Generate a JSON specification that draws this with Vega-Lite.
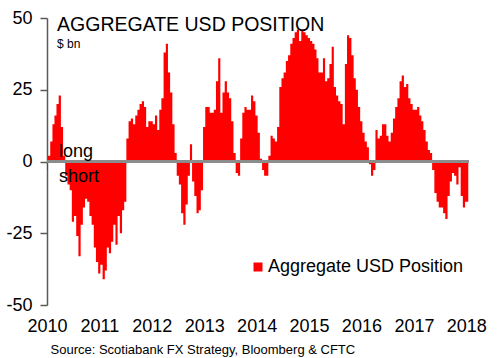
{
"$schema": "https://vega.github.io/schema/vega-lite/v6.json",
"width": 422, "height": 287,
"autosize": {"type": "none"},
"padding": {"left": 47, "top": 18, "right": 31, "bottom": 53},
"background": "white",
"config": {"view": {"stroke": null}, "font": "Liberation Sans"},
"data": {"values": [
{"date":"2010-01-01","usd":-3},{"date":"2010-01-15","usd":2},{"date":"2010-02-01","usd":7},{"date":"2010-02-15","usd":13},
{"date":"2010-03-01","usd":16},{"date":"2010-03-15","usd":20},{"date":"2010-04-01","usd":23},{"date":"2010-04-15","usd":12},
{"date":"2010-05-01","usd":2},{"date":"2010-05-15","usd":-5},{"date":"2010-06-01","usd":-8},{"date":"2010-06-15","usd":-10},
{"date":"2010-07-01","usd":-21},{"date":"2010-07-15","usd":-19},{"date":"2010-08-01","usd":-26},{"date":"2010-08-15","usd":-33},
{"date":"2010-09-01","usd":-22},{"date":"2010-09-15","usd":-16},{"date":"2010-10-01","usd":-13},{"date":"2010-10-15","usd":-14},
{"date":"2010-11-01","usd":-19},{"date":"2010-11-15","usd":-22},{"date":"2010-12-01","usd":-30},{"date":"2010-12-15","usd":-35},
{"date":"2011-01-01","usd":-39},{"date":"2011-01-15","usd":-36},{"date":"2011-02-01","usd":-41},{"date":"2011-02-15","usd":-38},
{"date":"2011-03-01","usd":-30},{"date":"2011-03-15","usd":-32},{"date":"2011-04-01","usd":-28},{"date":"2011-04-15","usd":-22},
{"date":"2011-05-01","usd":-29},{"date":"2011-05-15","usd":-19},{"date":"2011-06-01","usd":-25},{"date":"2011-06-15","usd":-17},
{"date":"2011-07-01","usd":-14},{"date":"2011-07-15","usd":8},{"date":"2011-08-01","usd":14},{"date":"2011-08-15","usd":15},
{"date":"2011-09-01","usd":13},{"date":"2011-09-15","usd":16},{"date":"2011-10-01","usd":18},{"date":"2011-10-15","usd":20},
{"date":"2011-11-01","usd":21},{"date":"2011-11-15","usd":19},{"date":"2011-12-01","usd":12},{"date":"2011-12-15","usd":14},
{"date":"2012-01-01","usd":14},{"date":"2012-01-15","usd":13},{"date":"2012-02-01","usd":16},{"date":"2012-02-15","usd":11},
{"date":"2012-03-01","usd":18},{"date":"2012-03-15","usd":22},{"date":"2012-04-01","usd":38},{"date":"2012-04-15","usd":41},
{"date":"2012-05-01","usd":31},{"date":"2012-05-15","usd":24},{"date":"2012-06-01","usd":13},{"date":"2012-06-15","usd":3},
{"date":"2012-07-01","usd":-5},{"date":"2012-07-15","usd":-8},{"date":"2012-08-01","usd":-18},{"date":"2012-08-15","usd":-22},
{"date":"2012-09-01","usd":-15},{"date":"2012-09-15","usd":-5},{"date":"2012-10-01","usd":6},{"date":"2012-10-15","usd":-7},
{"date":"2012-11-01","usd":-12},{"date":"2012-11-15","usd":-18},{"date":"2012-12-01","usd":-17},{"date":"2012-12-15","usd":-10},
{"date":"2013-01-01","usd":12},{"date":"2013-01-15","usd":19},{"date":"2013-02-01","usd":19},{"date":"2013-02-15","usd":17},
{"date":"2013-03-01","usd":17},{"date":"2013-03-15","usd":18},{"date":"2013-04-01","usd":28},{"date":"2013-04-15","usd":36},
{"date":"2013-05-01","usd":17},{"date":"2013-05-15","usd":24},{"date":"2013-06-01","usd":28},{"date":"2013-06-15","usd":24},
{"date":"2013-07-01","usd":22},{"date":"2013-07-15","usd":14},{"date":"2013-08-01","usd":3},{"date":"2013-08-15","usd":-4},
{"date":"2013-09-01","usd":-5},{"date":"2013-09-15","usd":8},{"date":"2013-10-01","usd":17},{"date":"2013-10-15","usd":19},
{"date":"2013-11-01","usd":18},{"date":"2013-11-15","usd":18},{"date":"2013-12-01","usd":23},{"date":"2013-12-15","usd":21},
{"date":"2014-01-01","usd":16},{"date":"2014-01-15","usd":10},{"date":"2014-02-01","usd":1},{"date":"2014-02-15","usd":-3},
{"date":"2014-03-01","usd":-5},{"date":"2014-03-15","usd":-5},{"date":"2014-04-01","usd":2},{"date":"2014-04-15","usd":9},
{"date":"2014-05-01","usd":8},{"date":"2014-05-15","usd":7},{"date":"2014-06-01","usd":12},{"date":"2014-06-15","usd":26},
{"date":"2014-07-01","usd":29},{"date":"2014-07-15","usd":31},{"date":"2014-08-01","usd":35},{"date":"2014-08-15","usd":37},
{"date":"2014-09-01","usd":41},{"date":"2014-09-15","usd":43},{"date":"2014-10-01","usd":45},{"date":"2014-10-15","usd":46},
{"date":"2014-11-01","usd":42},{"date":"2014-11-15","usd":46},{"date":"2014-12-01","usd":45},{"date":"2014-12-15","usd":44},
{"date":"2015-01-01","usd":43},{"date":"2015-01-15","usd":42},{"date":"2015-02-01","usd":41},{"date":"2015-02-15","usd":39},
{"date":"2015-03-01","usd":36},{"date":"2015-03-15","usd":31},{"date":"2015-04-01","usd":31},{"date":"2015-04-15","usd":36},
{"date":"2015-05-01","usd":28},{"date":"2015-05-15","usd":29},{"date":"2015-06-01","usd":34},{"date":"2015-06-15","usd":40},
{"date":"2015-07-01","usd":26},{"date":"2015-07-15","usd":23},{"date":"2015-08-01","usd":21},{"date":"2015-08-15","usd":20},
{"date":"2015-09-01","usd":13},{"date":"2015-09-15","usd":34},{"date":"2015-10-01","usd":44},{"date":"2015-10-15","usd":43},
{"date":"2015-11-01","usd":37},{"date":"2015-11-15","usd":29},{"date":"2015-12-01","usd":25},{"date":"2015-12-15","usd":19},
{"date":"2016-01-01","usd":14},{"date":"2016-01-15","usd":10},{"date":"2016-02-01","usd":7},{"date":"2016-02-15","usd":5},
{"date":"2016-03-01","usd":-1},{"date":"2016-03-15","usd":-5},{"date":"2016-04-01","usd":-3},{"date":"2016-04-15","usd":11},
{"date":"2016-05-01","usd":8},{"date":"2016-05-15","usd":9},{"date":"2016-06-01","usd":13},{"date":"2016-06-15","usd":13},
{"date":"2016-07-01","usd":9},{"date":"2016-07-15","usd":7},{"date":"2016-08-01","usd":10},{"date":"2016-08-15","usd":15},
{"date":"2016-09-01","usd":19},{"date":"2016-09-15","usd":22},{"date":"2016-10-01","usd":28},{"date":"2016-10-15","usd":30},
{"date":"2016-11-01","usd":26},{"date":"2016-11-15","usd":27},{"date":"2016-12-01","usd":22},{"date":"2016-12-15","usd":20},
{"date":"2017-01-01","usd":18},{"date":"2017-01-15","usd":18},{"date":"2017-02-01","usd":19},{"date":"2017-02-15","usd":16},
{"date":"2017-03-01","usd":14},{"date":"2017-03-15","usd":11},{"date":"2017-04-01","usd":7},{"date":"2017-04-15","usd":4},
{"date":"2017-05-01","usd":3},{"date":"2017-05-15","usd":-3},{"date":"2017-06-01","usd":-11},{"date":"2017-06-15","usd":-14},
{"date":"2017-07-01","usd":-16},{"date":"2017-07-15","usd":-16},{"date":"2017-08-01","usd":-18},{"date":"2017-08-15","usd":-20},
{"date":"2017-09-01","usd":-12},{"date":"2017-09-15","usd":-7},{"date":"2017-10-01","usd":-4},{"date":"2017-10-15","usd":-5},
{"date":"2017-11-01","usd":-8},{"date":"2017-11-15","usd":-2},{"date":"2017-12-01","usd":-12},{"date":"2017-12-15","usd":-16},
{"date":"2018-01-01","usd":-14},{"date":"2018-01-15","usd":-14}
]},
"layer": [
{
"mark": {"type": "area", "interpolate": "step"},
"encoding": {
"x": {"field": "date", "type": "temporal",
"scale": {"domain": [{"year": 2010, "month": 1, "date": 1}, {"year": 2018, "month": 1, "date": 20}]},
"axis": {"values": [{"year": 2010, "month": 1, "date": 1}, {"year": 2011, "month": 1, "date": 1}, {"year": 2012, "month": 1, "date": 1}, {"year": 2013, "month": 1, "date": 1}, {"year": 2014, "month": 1, "date": 1}, {"year": 2015, "month": 1, "date": 1}, {"year": 2016, "month": 1, "date": 1}, {"year": 2017, "month": 1, "date": 1}, {"year": 2018, "month": 1, "date": 1}],
"format": "%Y", "domain": false, "ticks": false, "grid": false,
"labelFontSize": 18, "labelColor": "#000000", "labelPadding": 12, "labelFlush": false, "labelOverlap": false,
"title": "Source: Scotiabank FX Strategy, Bloomberg & CFTC",
"titleFontSize": 13, "titleFontWeight": "normal", "titleColor": "#000000",
"titleX": 3, "titleY": 48, "titleAlign": "left", "titleBaseline": "alphabetic"}},
"y": {"field": "usd", "type": "quantitative",
"scale": {"domain": [-50, 50]},
"axis": {"values": [-50, -25, 0, 25, 50], "grid": false, "title": null,
"labelExpr": "toString(datum.value)",
"domainColor": "#595959", "domainWidth": 1.5, "tickColor": "#595959", "tickWidth": 1.5, "tickSize": 7,
"labelFontSize": 18, "labelColor": "#000000", "labelPadding": 8}},
"color": {"datum": "Aggregate USD Position", "type": "nominal",
"scale": {"range": ["#ff0000"]},
"legend": {"orient": "none", "legendX": 202, "legendY": 240, "title": null,
"symbolType": "square", "symbolSize": 81, "symbolStrokeWidth": 0, "symbolOpacity": 1,
"labelFontSize": 18, "labelColor": "#000000", "labelOffset": 1, "labelLimit": 400}}
}
},
{
"mark": {"type": "rule", "color": "#8c8c8c", "strokeWidth": 2},
"encoding": {"y": {"datum": 0, "type": "quantitative"}}
},
{
"data": {"values": [{}]},
"mark": {"type": "text", "text": "AGGREGATE USD POSITION", "fontSize": 19.5, "align": "left", "baseline": "alphabetic", "color": "#000000"},
"encoding": {"x": {"datum": {"year": 2010, "month": 3, "date": 12}, "type": "temporal"}, "y": {"datum": 45.3, "type": "quantitative"}}
},
{
"data": {"values": [{}]},
"mark": {"type": "text", "text": "$ bn", "fontSize": 12, "align": "left", "baseline": "alphabetic", "color": "#000000"},
"encoding": {"x": {"datum": {"year": 2010, "month": 3, "date": 12}, "type": "temporal"}, "y": {"datum": 39.7, "type": "quantitative"}}
},
{
"data": {"values": [{}]},
"mark": {"type": "text", "text": "long", "fontSize": 18, "align": "left", "baseline": "alphabetic", "color": "#000000"},
"encoding": {"x": {"datum": {"year": 2010, "month": 3, "date": 25}, "type": "temporal"}, "y": {"datum": 1.4, "type": "quantitative"}}
},
{
"data": {"values": [{}]},
"mark": {"type": "text", "text": "short", "fontSize": 18, "align": "left", "baseline": "alphabetic", "color": "#000000"},
"encoding": {"x": {"datum": {"year": 2010, "month": 3, "date": 25}, "type": "temporal"}, "y": {"datum": -7, "type": "quantitative"}}
}
]
}
